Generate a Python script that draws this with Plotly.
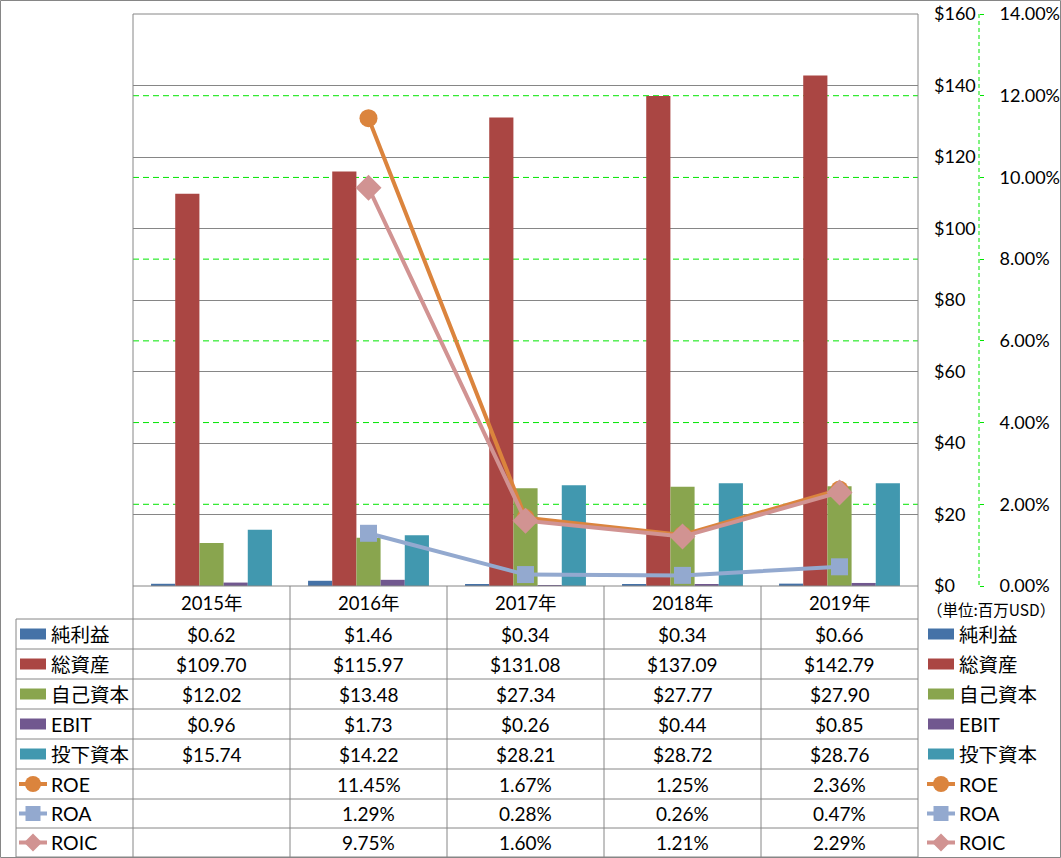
import plotly.graph_objects as go

# ---------------- data ----------------
categories = ['2015年', '2016年', '2017年', '2018年', '2019年']
net_income = [0.62, 1.46, 0.34, 0.34, 0.66]
total_assets = [109.70, 115.97, 131.08, 137.09, 142.79]
equity = [12.02, 13.48, 27.34, 27.77, 27.90]
ebit = [0.96, 1.73, 0.26, 0.44, 0.85]
invested = [15.74, 14.22, 28.21, 28.72, 28.76]
roe = [None, 11.45, 1.67, 1.25, 2.36]
roa = [None, 1.29, 0.28, 0.26, 0.47]
roic = [None, 9.75, 1.60, 1.21, 2.29]
unit_label = '（単位:百万USD）'

bar_series = [
    ('純利益', net_income, '#4572A7'),
    ('総資産', total_assets, '#AA4643'),
    ('自己資本', equity, '#89A54E'),
    ('EBIT', ebit, '#71588F'),
    ('投下資本', invested, '#4198AF'),
]
line_series = [
    ('ROE', roe, '#DB843D', 'circle', 18),
    ('ROA', roa, '#93A9CF', 'square', 17),
    ('ROIC', roic, '#D19392', 'diamond', 20),
]

# ---------------- layout constants (pixels) ----------------
W, H = 1061, 858
PX_L, PX_R = 133, 918
PY_T, PY_B = 14, 586
SEC_X = 979
ROW_EDGES = [619, 649, 679, 709, 739, 769, 799, 828, 857]
TBL_L = 16
GRAY = '#868686'
GREEN = '#00E600'
FONT = 'Lato, Noto Sans CJK JP, sans-serif'
CJK = 'Noto Sans CJK JP, Lato, sans-serif'
PCT_MAX, PCT_STEP = 0.14, 0.02


def px(x):
    return x / W


def py(y):
    return 1 - y / H


fig = go.Figure()

for name, vals, col in bar_series:
    fig.add_trace(go.Bar(x=categories, y=vals, name=name, marker_color=col,
                         marker_line_width=0, yaxis='y', showlegend=False))

for name, vals, col, sym, sz in line_series:
    fig.add_trace(go.Scatter(x=categories, y=[v / 100 if v is not None else None for v in vals],
                             name=name, mode='lines+markers', yaxis='y2',
                             line=dict(color=col, width=4),
                             marker=dict(symbol=sym, size=sz, color=col,
                                         line=dict(width=0)),
                             connectgaps=False, showlegend=False))

shapes = []
annotations = []

# secondary-axis gridlines (green dashed), on the y2 scale
n_steps = round(PCT_MAX / PCT_STEP)
for k in range(1, n_steps):
    v = k * PCT_STEP
    shapes.append(dict(type='line', xref='paper', yref='y2', x0=px(PX_L), x1=px(PX_R),
                       y0=v, y1=v, layer='below', line=dict(color=GREEN, width=1, dash='6px,4px')))

# outer border
shapes.append(dict(type='rect', xref='paper', yref='paper', x0=px(0.5), x1=px(W - 0.5),
                   y0=py(H - 0.5), y1=py(0.5), line=dict(color=GRAY, width=1)))
# plot area top line
shapes.append(dict(type='line', xref='paper', yref='paper', x0=px(PX_L), x1=px(PX_R),
                   y0=py(PY_T), y1=py(PY_T), line=dict(color=GRAY, width=1)))
# secondary axis dashed line
shapes.append(dict(type='line', xref='paper', yref='paper', x0=px(SEC_X), x1=px(SEC_X),
                   y0=py(PY_T), y1=py(PY_B), line=dict(color=GREEN, width=1, dash='4px,3px')))

# table geometry
ncat = len(categories)
colw = (PX_R - PX_L) / ncat
col_edges = [PX_L + i * colw for i in range(ncat + 1)]

# vertical lines
for i, xe in enumerate(col_edges):
    shapes.append(dict(type='line', xref='paper', yref='paper', x0=px(xe), x1=px(xe),
                       y0=py(PY_T if i in (0, ncat) else PY_B), y1=py(ROW_EDGES[-1]),
                       line=dict(color=GRAY, width=1)))
shapes.append(dict(type='line', xref='paper', yref='paper', x0=px(TBL_L), x1=px(TBL_L),
                   y0=py(ROW_EDGES[0]), y1=py(ROW_EDGES[-1]), line=dict(color=GRAY, width=1)))
# horizontal lines
shapes.append(dict(type='line', xref='paper', yref='paper', x0=px(PX_L), x1=px(PX_R),
                   y0=py(PY_B), y1=py(PY_B), line=dict(color=GRAY, width=1)))
for ye in ROW_EDGES:
    shapes.append(dict(type='line', xref='paper', yref='paper', x0=px(TBL_L), x1=px(PX_R),
                       y0=py(ye), y1=py(ye), line=dict(color=GRAY, width=1)))

# header
hdr_y = (PY_B + ROW_EDGES[0]) / 2
for i, c in enumerate(categories):
    annotations.append(dict(xref='paper', yref='paper', x=px((col_edges[i] + col_edges[i + 1]) / 2),
                            y=py(hdr_y), text=c, showarrow=False, xanchor='center', yanchor='middle',
                            font=dict(size=18.5, color='black', family=FONT)))
annotations.append(dict(xref='paper', yref='paper', x=px(991), y=py(609), text=unit_label,
                        showarrow=False, xanchor='center', yanchor='middle',
                        font=dict(size=15.5, color='black', family=CJK)))

rows = [(n, v, c, None, None, '$') for n, v, c in bar_series] + \
       [(n, v, c, s, z, '%') for n, v, c, s, z in line_series]


def legend_key(cx, cy, col, sym, size):
    if sym is None:
        shapes.append(dict(type='rect', xref='paper', yref='paper', x0=px(cx - 13), x1=px(cx + 13),
                           y0=py(cy + 5.5), y1=py(cy - 5.5), fillcolor=col, line=dict(width=0)))
        return
    shapes.append(dict(type='line', xref='paper', yref='paper', x0=px(cx - 14), x1=px(cx + 14),
                       y0=py(cy), y1=py(cy), line=dict(color=col, width=4)))
    r = size / 2 - 1
    if sym == 'circle':
        shapes.append(dict(type='circle', xref='paper', yref='paper', x0=px(cx - r), x1=px(cx + r),
                           y0=py(cy + r), y1=py(cy - r), fillcolor=col, line=dict(width=0)))
    elif sym == 'square':
        shapes.append(dict(type='rect', xref='paper', yref='paper', x0=px(cx - r), x1=px(cx + r),
                           y0=py(cy + r), y1=py(cy - r), fillcolor=col, line=dict(width=0)))
    else:
        path = 'M {} {} L {} {} L {} {} L {} {} Z'.format(
            px(cx), py(cy - r), px(cx + r), py(cy), px(cx), py(cy + r), px(cx - r), py(cy))
        shapes.append(dict(type='path', xref='paper', yref='paper', path=path,
                           fillcolor=col, line=dict(width=0)))


for ri, (name, vals, col, sym, size, kind) in enumerate(rows):
    cy = (ROW_EDGES[ri] + ROW_EDGES[ri + 1]) / 2
    legend_key(33, cy, col, sym, size)
    legend_key(941, cy, col, sym, size)
    for lx in (49, 957):
        annotations.append(dict(xref='paper', yref='paper', x=px(lx), y=py(cy), text=name,
                                showarrow=False, xanchor='left', yanchor='middle',
                                font=dict(size=19.5, color='black', family=FONT)))
    for i, v in enumerate(vals):
        if v is None:
            continue
        txt = f'${v:.2f}' if kind == '$' else f'{v:.2f}%'
        annotations.append(dict(xref='paper', yref='paper', x=px((col_edges[i] + col_edges[i + 1]) / 2),
                                y=py(cy), text=txt, showarrow=False, xanchor='center', yanchor='middle',
                                font=dict(size=19, color='black', family=FONT)))

fig.update_layout(
    width=W, height=H,
    margin=dict(l=0, r=0, t=0, b=0, pad=0, autoexpand=False),
    paper_bgcolor='white', plot_bgcolor='white',
    barmode='group', bargap=0.23, bargroupgap=0,
    font=dict(family=FONT, size=17, color='black'),
    showlegend=False,
    xaxis=dict(domain=[px(PX_L), px(PX_R)], showticklabels=False, ticks='', showgrid=False,
               showline=False, zeroline=False, automargin=False),
    yaxis=dict(domain=[py(PY_B), py(PY_T)], range=[0, 160], dtick=20, tickprefix='$',
               side='right', showgrid=True, gridcolor=GRAY, gridwidth=1, zeroline=False,
               showline=False, ticks='', ticklabelstandoff=15, automargin=False,
               tickfont=dict(size=18, color='black', family=FONT)),
    yaxis2=dict(range=[0, PCT_MAX], dtick=PCT_STEP, tickformat='.2%', overlaying='y', side='right',
                anchor='free', position=px(SEC_X), showgrid=False,
                zeroline=False, showline=False, ticks='outside', ticklen=4,
                tickcolor=GREEN, ticklabelstandoff=12, automargin=False,
                tickfont=dict(size=18, color='black', family=FONT)),
    shapes=shapes,
    annotations=annotations,
)

fig.write_html('out.html', config={'displayModeBar': False},
               post_script="document.body.style.margin='0';document.body.style.padding='0';"
                           "document.body.style.overflow='hidden';")
